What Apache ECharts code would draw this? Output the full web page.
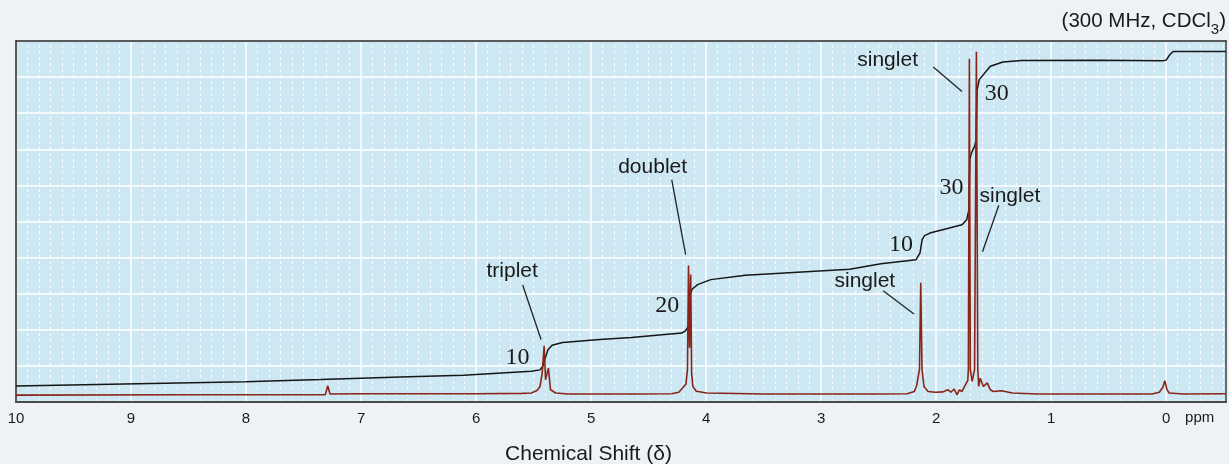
<!DOCTYPE html>
<html>
<head>
<meta charset="utf-8">
<script src="https://cdn.jsdelivr.net/npm/echarts@6/dist/echarts.min.js"></script>
<style>
  html, body { margin: 0; padding: 0; background: #eef2f5; }
  #chart { width: 1229px; height: 464px; }
</style>
</head>
<body>
<div id="chart"></div>
<script>
// 1H NMR spectrum: [chemical shift (ppm), relative intensity]
const spectrum = [
  [10.0, 0.19], [8.5, 0.2], [7.6, 0.2], [7.31, 0.2], [7.29, 0.45], [7.27, 0.22],
  [7.0, 0.23], [6.0, 0.23], [5.6, 0.24], [5.52, 0.25], [5.47, 0.32], [5.444, 0.43],
  [5.425, 0.8], [5.408, 1.56], [5.396, 0.62], [5.371, 0.94], [5.353, 0.34], [5.308, 0.25],
  [5.2, 0.22], [4.6, 0.22], [4.3, 0.23], [4.238, 0.27], [4.2, 0.4], [4.175, 0.5],
  [4.162, 0.9], [4.153, 3.78], [4.144, 1.5], [4.134, 3.53], [4.126, 0.8], [4.115, 0.43],
  [4.085, 0.3], [3.995, 0.25], [3.5, 0.22], [2.5, 0.22], [2.252, 0.23], [2.19, 0.29],
  [2.17, 0.45], [2.145, 0.9], [2.134, 3.30], [2.123, 0.9], [2.105, 0.42], [2.07, 0.29],
  [2.006, 0.27], [1.94, 0.28], [1.899, 0.34], [1.872, 0.27], [1.844, 0.36], [1.817, 0.2],
  [1.798, 0.34], [1.776, 0.29], [1.753, 0.43], [1.74, 0.39], [1.725, 0.6], [1.72, 0.9],
  [1.711, 9.51], [1.703, 0.9], [1.687, 0.57], [1.666, 0.9], [1.650, 9.70], [1.638, 0.9],
  [1.63, 0.43], [1.617, 0.66], [1.589, 0.43], [1.556, 0.53], [1.529, 0.34], [1.502, 0.29],
  [1.433, 0.31], [1.337, 0.25], [1.118, 0.22], [0.5, 0.22], [0.122, 0.22], [0.06, 0.27],
  [0.03, 0.4], [0.012, 0.59], [-0.006, 0.35], [-0.025, 0.25], [-0.15, 0.22], [-0.52, 0.23]
];

// Running integral of the spectrum: [ppm, integral height]
const integral = [
  [10.0, 0.44], [9.06, 0.5], [8.003, 0.56], [7.35, 0.62], [6.66, 0.69], [6.11, 0.74],
  [5.52, 0.85], [5.444, 0.89], [5.42, 0.99], [5.399, 1.22], [5.375, 1.45], [5.339, 1.57],
  [5.248, 1.65], [4.924, 1.73], [4.65, 1.79], [4.211, 1.91], [4.178, 1.98], [4.156, 2.09],
  [4.145, 2.74], [4.134, 3.02], [4.12, 3.13], [4.074, 3.25], [3.96, 3.39], [3.659, 3.51],
  [2.752, 3.68], [2.479, 3.83], [2.176, 3.94], [2.14, 4.13], [2.122, 4.5], [2.1, 4.61],
  [2.055, 4.68], [1.885, 4.82], [1.775, 4.91], [1.734, 5.05], [1.715, 5.33], [1.707, 6.72],
  [1.693, 6.9], [1.666, 7.08], [1.652, 7.27], [1.644, 8.65], [1.625, 8.93], [1.529, 9.30],
  [1.419, 9.42], [1.255, 9.46], [0.58, 9.47], [0.03, 9.45], [0.0, 9.47], [-0.031, 9.62],
  [-0.061, 9.71], [-0.52, 9.71]
];

// Peak annotations: [text, ppm, height]
const peakNotes = [
  ['singlet', 2.422, 9.48],
  ['singlet', 1.359, 5.70],
  ['singlet', 2.62, 3.36],
  ['doublet', 4.465, 6.50],
  ['triplet', 5.686, 3.62]
];
// Leader lines from each note towards its peak: [ppm1, h1, ppm2, h2]
const leaders = [
  [2.025, 9.28, 1.775, 8.60],
  [1.455, 5.45, 1.597, 4.16],
  [2.461, 3.08, 2.193, 2.44],
  [4.299, 6.16, 4.178, 4.08],
  [5.595, 3.24, 5.435, 1.73]
];
// Integral step values: [text, ppm, height]
const integralNotes = [
  ['30', 1.474, 8.55],
  ['30', 1.866, 5.93],
  ['10', 2.306, 4.35],
  ['20', 4.337, 2.66],
  ['10', 5.640, 1.23]
];

const axisRange = { min: -0.52, max: 10 };
const titleMain = '(300 MHz, CDCl';
const titleSub = '3';
const titleEnd = ')';
const axisTitle = 'Chemical Shift (\u03b4)';
const unitText = 'ppm';

// dashed grid lines every 0.1 ppm between the whole-number lines
const minorLines = [];
for (let i = -5; i < 100; i++) {
  if (i % 10 !== 0) minorLines.push({ xAxis: i / 10 });
}

const SANS = '"Liberation Sans", Arial, Helvetica, sans-serif';
const SERIF = '"Liberation Serif", "Times New Roman", serif';
const INK = '#1a1a1a';
const intLabel = v => (Math.abs(v - Math.round(v)) < 1e-9 ? String(Math.round(v)) : '');

const chart = echarts.init(document.getElementById('chart'), null, { renderer: 'canvas' });

chart.setOption({
  animation: false,
  backgroundColor: '#eef2f5',
  grid: {
    left: 16, right: 2, top: 41, bottom: 62,
    show: true,
    backgroundColor: '#cde8f3',
    borderWidth: 0
  },
  xAxis: [
    {
      type: 'value',
      inverse: true,
      min: axisRange.min,
      max: axisRange.max,
      splitNumber: 10,
      z: 2,
      axisLine: { show: true, onZero: false, lineStyle: { color: '#4a4a4a', width: 2 } },
      axisTick: { show: false },
      axisLabel: { fontSize: 15, fontFamily: SANS, color: INK, margin: 9, formatter: intLabel },
      splitLine: { show: true, lineStyle: { color: '#ffffff', width: 1.5 } }
    },
    {
      // frame along the top edge
      type: 'value',
      position: 'top',
      inverse: true,
      min: axisRange.min,
      max: axisRange.max,
      z: 3,
      axisLine: { show: true, onZero: false, lineStyle: { color: '#262626', width: 1.5 } },
      axisTick: { show: false },
      axisLabel: { show: false },
      splitLine: { show: false }
    }
  ],
  yAxis: [
    {
      type: 'value',
      min: 0,
      max: 10,
      interval: 1,
      z: 2,
      axisLine: { show: true, onZero: false, lineStyle: { color: '#5a5a5a', width: 2 } },
      axisTick: { show: false },
      axisLabel: { show: false },
      splitLine: { show: true, lineStyle: { color: '#ffffff', width: 1.5 } }
    },
    {
      // frame along the right edge
      type: 'value',
      position: 'right',
      min: 0,
      max: 10,
      z: 3,
      axisLine: { show: true, onZero: false, lineStyle: { color: '#3a3a3a', width: 1.5 } },
      axisTick: { show: false },
      axisLabel: { show: false },
      splitLine: { show: false }
    }
  ],
  graphic: [
    {
      type: 'text',
      right: 3,
      top: 11,
      style: {
        text: '{m|' + titleMain + '}{s|' + titleSub + '}{m|' + titleEnd + '}',
        rich: {
          m: { fontSize: 20.5, fontFamily: SANS, fill: INK, lineHeight: 24, verticalAlign: 'middle' },
          s: { fontSize: 15, fontFamily: SANS, fill: INK, lineHeight: 15, verticalAlign: 'bottom', padding: [0, 0, -4, 0] }
        }
      }
    },
    {
      type: 'text',
      x: 588.5,
      y: 454,
      style: {
        text: axisTitle, fontSize: 21, fontFamily: SANS, fill: INK,
        align: 'center', verticalAlign: 'middle'
      }
    },
    {
      type: 'text',
      x: 1199.7,
      y: 418,
      style: {
        text: unitText, fontSize: 15, fontFamily: SANS, fill: INK,
        align: 'center', verticalAlign: 'middle'
      }
    }
  ],
  series: [
    {
      // fine dashed grid
      type: 'line',
      data: [],
      z: 1,
      silent: true,
      markLine: {
        z: 1,
        silent: true,
        symbol: ['none', 'none'],
        label: { show: false },
        lineStyle: { color: '#ffffff', type: [3, 3], width: 1, opacity: 0.85 },
        data: minorLines
      }
    },
    {
      name: 'integral',
      type: 'line',
      data: integral,
      z: 4,
      showSymbol: false,
      lineStyle: { color: '#161616', width: 1.5 }
    },
    {
      name: 'spectrum',
      type: 'line',
      data: spectrum,
      z: 5,
      showSymbol: false,
      lineStyle: { color: '#8a2418', width: 1.6 }
    },
    {
      name: 'notes',
      type: 'scatter',
      z: 6,
      silent: true,
      symbolSize: 1,
      itemStyle: { color: 'rgba(0,0,0,0)' },
      data: peakNotes.map(n => ({ name: n[0], value: [n[1], n[2]] })),
      label: {
        show: true, position: 'inside', formatter: '{b}', opacity: 1,
        fontSize: 21, fontFamily: SANS, color: INK, textBorderWidth: 0
      },
      markLine: {
        z: 6,
        silent: true,
        symbol: ['none', 'none'],
        label: { show: false },
        lineStyle: { color: '#222', width: 1.3, type: 'solid', opacity: 1 },
        data: leaders.map(l => [{ coord: [l[0], l[1]] }, { coord: [l[2], l[3]] }])
      }
    },
    {
      name: 'integral values',
      type: 'scatter',
      z: 6,
      silent: true,
      symbolSize: 1,
      itemStyle: { color: 'rgba(0,0,0,0)' },
      data: integralNotes.map(n => ({ name: n[0], value: [n[1], n[2]] })),
      label: {
        show: true, position: 'inside', formatter: '{b}', opacity: 1,
        fontSize: 24, fontFamily: SERIF, color: INK, textBorderWidth: 0
      }
    }
  ]
});
</script>
</body>
</html>
